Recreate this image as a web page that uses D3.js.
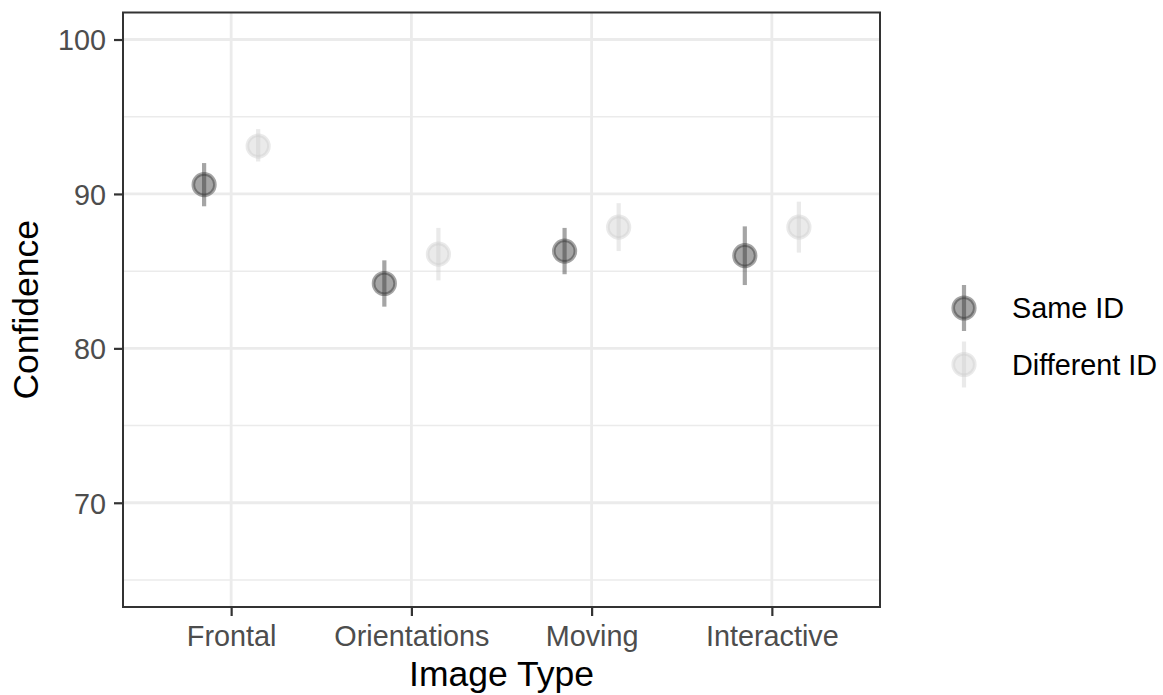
<!DOCTYPE html>
<html>
<head>
<meta charset="utf-8">
<script src="https://cdn.jsdelivr.net/npm/d3@7"></script>
<style>
  html, body { margin: 0; padding: 0; background: #fff; }
  svg { display: block; font-family: "Liberation Sans", Arial, sans-serif; }
</style>
</head>
<body>
<svg id="chart" width="1163" height="695"></svg>
<script>
const categories = ["Frontal", "Orientations", "Moving", "Interactive"];
const groups = ["Same ID", "Different ID"];
const sameMean = [90.6, 84.2, 86.3, 86.0];
const sameLow  = [89.2, 82.7, 84.8, 84.1];
const sameHigh = [92.0, 85.7, 87.8, 87.9];
const diffMean = [93.1, 86.1, 87.85, 87.85];
const diffLow  = [92.1, 84.4, 86.3, 86.2];
const diffHigh = [94.2, 87.8, 89.4, 89.5];
const yMajor = [70, 80, 90, 100];
const yMinor = [65, 75, 85, 95];

const svg = d3.select("#chart");
const L = 123, R = 880, T = 12.5, B = 607;

const x = d3.scalePoint().domain(categories).range([L, R]).padding(0.6);
const y = d3.scaleLinear().domain([63.25, 101.75]).range([B, T]);
const dodge = d3.scalePoint().domain(groups).range([-0.15, 0.15]).padding(0);

const fillCol = { "Same ID": "rgba(51,51,51,0.44)", "Different ID": "rgba(204,204,204,0.42)" };

const data = [];
categories.forEach((c, i) => {
  data.push({ cat: c, g: "Same ID", m: sameMean[i], lo: sameLow[i], hi: sameHigh[i] });
  data.push({ cat: c, g: "Different ID", m: diffMean[i], lo: diffLow[i], hi: diffHigh[i] });
});
const xpos = d => x(d.cat) + dodge(d.g) * x.step();

// grid
const grid = svg.append("g");
grid.selectAll(".ymin").data(yMinor).join("line")
  .attr("x1", L).attr("x2", R).attr("y1", d => y(d)).attr("y2", d => y(d))
  .attr("stroke", "#EBEBEB").attr("stroke-width", 1.5);
grid.selectAll(".ymaj").data(yMajor).join("line")
  .attr("x1", L).attr("x2", R).attr("y1", d => y(d)).attr("y2", d => y(d))
  .attr("stroke", "#EBEBEB").attr("stroke-width", 2.8);
grid.selectAll(".xmaj").data(categories).join("line")
  .attr("y1", T).attr("y2", B).attr("x1", d => x(d)).attr("x2", d => x(d))
  .attr("stroke", "#EBEBEB").attr("stroke-width", 2.8);

// marks
const marks = svg.append("g");
data.forEach(d => {
  const g = marks.append("g");
  g.append("line")
    .attr("x1", xpos(d)).attr("x2", xpos(d))
    .attr("y1", y(d.lo)).attr("y2", y(d.hi))
    .attr("stroke", fillCol[d.g]).attr("stroke-width", 4.2);
  g.append("circle")
    .attr("cx", xpos(d)).attr("cy", y(d.m)).attr("r", 10.8)
    .attr("fill", fillCol[d.g]).attr("stroke", fillCol[d.g]).attr("stroke-width", 3.6);
});

// panel border
svg.append("rect").attr("x", L).attr("y", T).attr("width", R - L).attr("height", B - T)
  .attr("fill", "none").attr("stroke", "#333333").attr("stroke-width", 2);

// axes
const yAxis = svg.append("g").attr("transform", `translate(${L},0)`)
  .call(d3.axisLeft(y).tickValues(yMajor).tickSize(9).tickPadding(8));
const xAxis = svg.append("g").attr("transform", `translate(0,${B})`)
  .call(d3.axisBottom(x).tickSize(9).tickPadding(8));
[yAxis, xAxis].forEach(a => {
  a.select(".domain").remove();
  a.selectAll(".tick line").attr("stroke", "#333333").attr("stroke-width", 2.2);
  a.selectAll(".tick text").attr("fill", "#4D4D4D")
    .style("font-size", "28.8px").style("font-family", '"Liberation Sans", Arial, sans-serif');
});
yAxis.selectAll(".tick text").attr("dy", "0.36em");
xAxis.selectAll(".tick text").attr("dy", "0.76em");

// axis titles
svg.append("text").attr("x", (L + R) / 2).attr("y", 686)
  .attr("text-anchor", "middle").attr("fill", "#000").style("font-size", "35.5px")
  .text("Image Type");
svg.append("text").attr("transform", `translate(38,${(T + B) / 2}) rotate(-90)`)
  .attr("text-anchor", "middle").attr("fill", "#000").style("font-size", "35.5px")
  .text("Confidence");

// legend
const leg = svg.append("g");
const legY = d3.scalePoint().domain(groups).range([308, 364.5]);
groups.forEach(gname => {
  const cy = legY(gname);
  leg.append("line").attr("x1", 964).attr("x2", 964).attr("y1", cy - 23).attr("y2", cy + 23)
    .attr("stroke", fillCol[gname]).attr("stroke-width", 4.2);
  leg.append("circle").attr("cx", 964).attr("cy", cy).attr("r", 10.8)
    .attr("fill", fillCol[gname]).attr("stroke", fillCol[gname]).attr("stroke-width", 3.6);
  leg.append("text").attr("x", 1012).attr("y", cy).attr("dy", "0.36em")
    .attr("fill", "#000").style("font-size", "28.8px").text(gname);
});
</script>
</body>
</html>
